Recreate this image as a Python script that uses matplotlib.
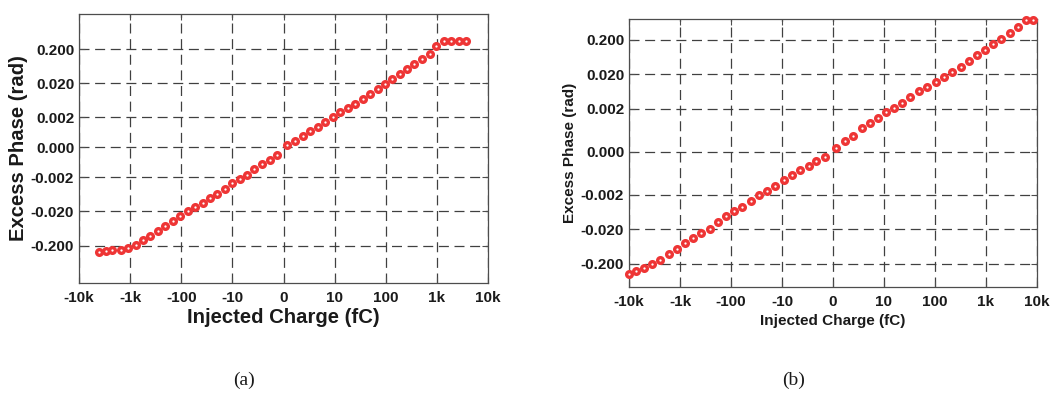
import matplotlib
matplotlib.use("Agg")
import matplotlib.pyplot as plt
from matplotlib.ticker import FixedLocator, FixedFormatter, NullLocator

# ---- data (charge in fC, phase in rad) ----
charge_a = [-4070, -3020, -2230, -1520, -1080, -776, -562, -407, -282, -204,
            -144, -106, -75, -53, -38, -27.5, -20, -13.9, -10.2, -8.6,
            -7.2, -5.7, -4.2, -2.7, -1.3,
            0.78, 2.3, 3.8, 5.2, 6.7, 8.2, 9.6, 12.9, 17.9, 25,
            35.3, 50, 69, 97, 132, 186, 263, 363, 512, 724,
            983, 1380, 1910, 2650, 3780]
phase_a = [-0.31, -0.28, -0.275, -0.275, -0.235, -0.187, -0.137, -0.102, -0.073, -0.0535,
           -0.039, -0.028, -0.020, -0.0152, -0.0112, -0.0083, -0.0063, -0.0045, -0.0030, -0.00224,
           -0.00182, -0.00145, -0.00114, -0.00082, -0.00048,
           0.00017, 0.00043, 0.00075, 0.00108, 0.00138, 0.00168, 0.0020, 0.0028, 0.0037, 0.0051,
           0.0071, 0.010, 0.0134, 0.0187, 0.0264, 0.0366, 0.0507, 0.072, 0.102, 0.141,
           0.24, 0.35, 0.35, 0.35, 0.35]

charge_b = [-10000, -7400, -5100, -3550, -2450, -1660, -1150, -813, -562, -380,
            -263, -178, -123, -87, -60, -41, -28, -19.5, -13.5, -9.7,
            -8.0, -6.4, -4.8, -3.3, -1.6,
            0.52, 2.3, 3.9, 5.6, 7.2, 8.8, 11.1, 15.8, 22.9, 33,
            48.6, 70.6, 103, 150, 218, 318, 465, 675, 937, 1370,
            1990, 2900, 4240, 6160, 8450]
phase_b = [-0.40, -0.32, -0.265, -0.200, -0.155, -0.104, -0.0745, -0.051, -0.0368, -0.0265,
           -0.0195, -0.0123, -0.0083, -0.0061, -0.0045, -0.0030, -0.0020, -0.00181, -0.00161, -0.00133,
           -0.0011, -0.00086, -0.00067, -0.00044, -0.00027,
           0.00016, 0.0005, 0.00074, 0.0011, 0.00134, 0.00157, 0.00184, 0.00212, 0.0030, 0.0043,
           0.0063, 0.0083, 0.012, 0.0163, 0.0224, 0.0317, 0.047, 0.071, 0.10, 0.148,
           0.21, 0.317, 0.48, 0.73, 0.76]

xticks = [-10000, -1000, -100, -10, 0, 10, 100, 1000, 10000]
xticklabels = ["-10k", "-1k", "-100", "-10", "0", "10", "100", "1k", "10k"]
yticks = [-0.2, -0.02, -0.002, 0, 0.002, 0.02, 0.2]
yticklabels = ["-0.200", "-0.020", "-0.002", "0.000", "0.002", "0.020", "0.200"]

RED = "#ee3535"
INK = "#1a1a1a"
SANS = ["Liberation Sans", "DejaVu Sans"]

fig = plt.figure(figsize=(10.53, 3.96), dpi=100)


def make_panel(rect, qx, ph, ylin, ylim, lab_size, xlab_y, ylab_x):
    ax = fig.add_axes(rect)
    ax.set_xscale("symlog", linthresh=10, linscale=0.9)
    ax.set_yscale("symlog", linthresh=0.002, linscale=ylin)
    ax.plot(qx, ph, "o", ms=4.1, mew=2.4, mec=RED, mfc="white", ls="none",
            clip_on=False, zorder=3)
    ax.set_xlim(-10000, 10000)
    ax.set_ylim(*ylim)

    ax.xaxis.set_major_locator(FixedLocator(xticks))
    ax.xaxis.set_major_formatter(FixedFormatter(xticklabels))
    ax.yaxis.set_major_locator(FixedLocator(yticks))
    ax.yaxis.set_major_formatter(FixedFormatter(yticklabels))
    ax.xaxis.set_minor_locator(NullLocator())
    ax.yaxis.set_minor_locator(NullLocator())

    ax.grid(True, color="0.25", lw=0.9, ls=(0, (8, 4.5)))
    ax.tick_params(direction="in", length=4, width=0.8, colors="0.3",
                   top=True, right=True, labelcolor=INK)
    ax.tick_params(axis="x", pad=6)
    ax.tick_params(axis="y", pad=3.5)
    for lbl in ax.get_xticklabels() + ax.get_yticklabels():
        lbl.set_family(SANS)
        lbl.set_fontweight("bold")
        lbl.set_fontsize(11)
    for sp in ax.spines.values():
        sp.set_color("0.3")
        sp.set_linewidth(0.9)

    ax.set_xlabel("Injected Charge (fC)", family=SANS, fontweight="bold",
                  fontsize=lab_size, color=INK)
    ax.set_ylabel("Excess Phase (rad)", family=SANS, fontweight="bold",
                  fontsize=lab_size, color=INK)
    ax.xaxis.set_label_coords(0.5, xlab_y)
    ax.yaxis.set_label_coords(ylab_x, 0.5)
    return ax


# (a) : saturating response
make_panel([79 / 1053, 1 - 283 / 396, 409 / 1053, 269 / 396],
           charge_a, phase_a, 0.79, (-2.5, 2.14), 14.6, -0.092, -0.125)

# (b) : linear response
make_panel([629 / 1053, 1 - 287 / 396, 408 / 1053, 268 / 396],
           charge_b, phase_b, 1.125, (-0.96, 0.80), 11, -0.10, -0.127)

fig.text(244 / 1053, 1 - 380 / 396, "(a)", family=["Liberation Serif", "DejaVu Serif"],
         fontsize=14, ha="center", va="center", color=INK)
fig.text(794 / 1053, 1 - 380 / 396, "(b)", family=["Liberation Serif", "DejaVu Serif"],
         fontsize=14, ha="center", va="center", color=INK)

fig.savefig("out.png", dpi=100)
